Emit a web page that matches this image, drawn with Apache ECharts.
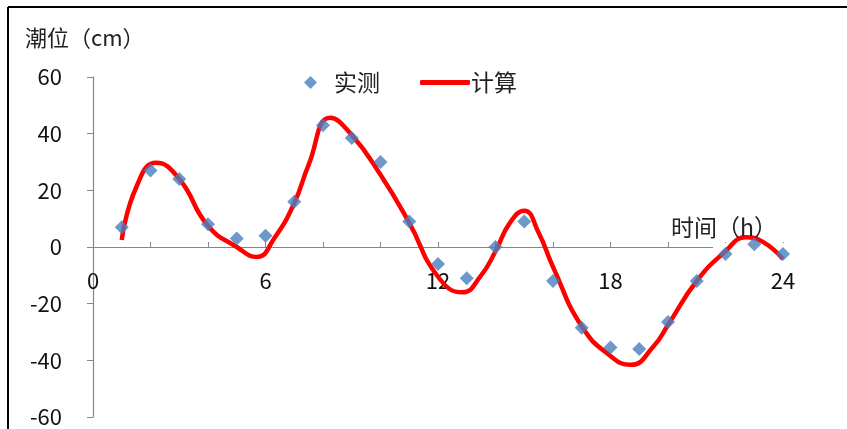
<!DOCTYPE html>
<html>
<head>
<meta charset="utf-8">
<script src="https://cdn.jsdelivr.net/npm/echarts@6/dist/echarts.min.js"></script>
<style>
  html, body { margin: 0; padding: 0; background: #fff; }
  #main { width: 847px; height: 429px; }
</style>
</head>
<body>
<div id="main"></div>
<script>
// 实测 (hourly observations)
const hours = [1, 2, 3, 4, 5, 6, 7, 8, 9, 10, 11, 12, 13, 14, 15, 16, 17, 18, 19, 20, 21, 22, 23, 24]
const measured = [7, 27, 24, 8, 3, 4, 16, 43, 38.5, 30, 9, -6, -11, 0, 9, -12, -28.5, -35.5, -36, -26.5, -12, -2.5, 1, -2.5]

const calcHours = [1, 1.5, 2.2, 3, 4, 5, 5.7, 6.3, 7, 7.5, 8.25, 9, 10, 11, 12, 12.85, 13.5, 14, 14.5, 15, 15.5, 16,
  17, 18, 18.7, 19.5, 20, 21, 22, 22.7, 23.3, 24]
const calcValues = [2.5, 21, 29.7, 24, 7.5, 0, -3.5, 3, 15.5, 29, 45.6, 39.5, 25.5, 8.5, -10.5, -16, -10, -1.5, 8.5, 12.8, 5, -7,
  -28, -38.5, -41.6, -35, -27.5, -12, -1.5, 3.4, 1.8, -4.3]

const xTicks = [0, 6, 12, 18, 24]
const yTicks = [-60, -40, -20, 0, 20, 40, 60]

const font = '"Noto Sans CJK SC", "Noto Sans", sans-serif'
const chart = echarts.init(document.getElementById('main'), null, { renderer: 'canvas' })

// grid: top 77, height 340 -> zero line sits 170px above the bottom edge
const gridTop = 77
const gridBottom = 12
const gridHeight = 429 - gridTop - gridBottom

const option = {
  backgroundColor: '#fff',
  animation: false,
  textStyle: { fontFamily: font },
  title: [
    {
      text: '潮位（cm）',
      left: 20,
      top: 22,
      textStyle: { fontSize: 22, fontWeight: 'normal', color: '#222', fontFamily: font },
    },
    {
      text: '时间（h）',
      left: 666,
      top: 211,
      textStyle: { fontSize: 23, fontWeight: 'normal', color: '#222', fontFamily: font },
    },
  ],
  legend: [
    {
      left: 299,
      top: 66,
      itemWidth: 13,
      itemHeight: 13,
      itemGap: 10,
      textStyle: { fontSize: 23, color: '#222', fontFamily: font, padding: [0, 0, 0, 12] },
      data: [{ name: '实测', icon: 'diamond', itemStyle: { color: '#4a7ebb' } }],
    },
    {
      left: 415,
      top: 66,
      itemWidth: 50,
      itemHeight: 5,
      textStyle: { fontSize: 23, color: '#222', fontFamily: font, padding: [0, 0, 0, -4] },
      data: [{ name: '计算', icon: 'roundRect', itemStyle: { color: '#ff0000' } }],
    },
  ],
  grid: { left: 93, right: 64, top: gridTop, bottom: gridBottom, containLabel: false, outerBoundsMode: 'none' },
  xAxis: {
    type: 'value',
    min: 0,
    max: 24,
    interval: 2,
    offset: -gridHeight / 2,
    axisLine: { onZero: false, lineStyle: { color: '#868686', width: 1.2 } },
    axisTick: { show: true, inside: true, length: 5, lineStyle: { color: '#868686' } },
    splitLine: { show: false },
    axisLabel: {
      margin: 23,
      fontSize: 22,
      color: '#111',
      fontFamily: font,
      formatter: v => (xTicks.includes(v) ? String(v) : ''),
    },
  },
  yAxis: {
    type: 'value',
    min: yTicks[0],
    max: yTicks[yTicks.length - 1],
    interval: 20,
    axisLine: { show: true, lineStyle: { color: '#868686', width: 1.2 } },
    axisTick: { show: true, length: 6, lineStyle: { color: '#868686' } },
    splitLine: { show: false },
    axisLabel: { margin: 31, fontSize: 22, color: '#111', fontFamily: font },
  },
  graphic: [
    {
      type: 'line',
      shape: { x1: 8, y1: 7, x2: 847, y2: 7 },
      style: { stroke: '#000', lineWidth: 2 },
      z: 10,
    },
    {
      type: 'line',
      shape: { x1: 8, y1: 7, x2: 8, y2: 429 },
      style: { stroke: '#000', lineWidth: 2 },
      z: 10,
    },
    {
      type: 'rect',
      shape: { x: 713, y: 243, width: 72, height: 6 },
      style: { fill: '#fff' },
      z: 1,
    },
  ],
  series: [
    {
      name: '计算',
      type: 'line',
      smooth: 0.5,
      showSymbol: false,
      symbol: 'none',
      z: 3,
      lineStyle: { color: '#ff0000', width: 4.5 },
      itemStyle: { color: '#ff0000' },
      data: calcHours.map((h, i) => [h, calcValues[i]]),
    },
    {
      name: '实测',
      type: 'scatter',
      symbol: 'diamond',
      symbolSize: 14,
      z: 4,
      itemStyle: { color: '#4a7ebb' },
      data: hours.map((h, i) => [h, measured[i]]),
    },
  ],
}

chart.setOption(option)
</script>
</body>
</html>
